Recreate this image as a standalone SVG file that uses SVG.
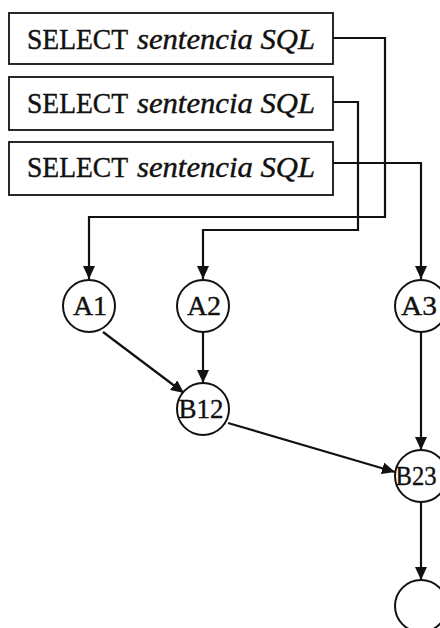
<svg xmlns="http://www.w3.org/2000/svg" width="440" height="628" viewBox="0 0 440 628">
  <style>
    .box { fill: #fff; stroke: #111; stroke-width: 1.8; }
    .node { fill: #fff; stroke: #111; stroke-width: 2; }
    .lbl { font-family: "Liberation Serif", "Times New Roman", serif; fill: #111; stroke: #111; stroke-width: 0.4; }
    .sel { font-size: 29px; }
    .it { font-style: italic; }
    .nd { font-size: 28px; text-anchor: middle; }
    .edge { fill: none; stroke: #111; stroke-width: 2.2; }
  </style>
  <defs>
    <marker id="arrow" markerUnits="userSpaceOnUse" markerWidth="14" markerHeight="12" refX="13" refY="6" orient="auto">
      <path d="M0,0 L13,6 L0,12 z" fill="#111"/>
    </marker>
  </defs>

  <!-- query boxes -->
  <g id="q1">
    <rect class="box" x="9" y="13" width="324" height="51"/>
    <text class="lbl sel" y="49"><tspan x="27" textLength="101" lengthAdjust="spacingAndGlyphs">SELECT</tspan><tspan class="it" x="137" textLength="178" lengthAdjust="spacingAndGlyphs">sentencia SQL</tspan></text>
  </g>
  <g id="q2">
    <rect class="box" x="9" y="77" width="324" height="53"/>
    <text class="lbl sel" y="113"><tspan x="27" textLength="101" lengthAdjust="spacingAndGlyphs">SELECT</tspan><tspan class="it" x="137" textLength="178" lengthAdjust="spacingAndGlyphs">sentencia SQL</tspan></text>
  </g>
  <g id="q3">
    <rect class="box" x="9" y="142" width="324" height="53"/>
    <text class="lbl sel" y="177"><tspan x="27" textLength="101" lengthAdjust="spacingAndGlyphs">SELECT</tspan><tspan class="it" x="137" textLength="178" lengthAdjust="spacingAndGlyphs">sentencia SQL</tspan></text>
  </g>

  <!-- connectors -->
  <g id="edges">
    <polyline class="edge" points="333,38 385,38 385,217 89,217 89,279" marker-end="url(#arrow)"/>
    <polyline class="edge" points="333,102 358,102 358,230 203,230 203,279" marker-end="url(#arrow)"/>
    <polyline class="edge" points="333,163 421,163 421,279" marker-end="url(#arrow)"/>
    <line class="edge" x1="103" y1="332" x2="184" y2="393" marker-end="url(#arrow)"/>
    <line class="edge" x1="203" y1="332" x2="203" y2="383" marker-end="url(#arrow)"/>
    <line class="edge" x1="421" y1="332" x2="421" y2="450" marker-end="url(#arrow)"/>
    <line class="edge" x1="228" y1="423" x2="395" y2="472" marker-end="url(#arrow)"/>
    <line class="edge" x1="421" y1="502" x2="421" y2="580" marker-end="url(#arrow)"/>
  </g>

  <!-- operation nodes -->
  <g id="A1">
    <circle class="node" cx="89" cy="306" r="26"/>
    <text class="lbl nd" x="90" y="315">A1</text>
  </g>
  <g id="A2">
    <circle class="node" cx="203" cy="306" r="26"/>
    <text class="lbl nd" x="204" y="315">A2</text>
  </g>
  <g id="A3">
    <circle class="node" cx="421" cy="306" r="26"/>
    <text class="lbl nd" x="419" y="315" textLength="36" lengthAdjust="spacingAndGlyphs">A3</text>
  </g>
  <g id="B12">
    <circle class="node" cx="203" cy="409" r="26"/>
    <text class="lbl nd" x="201" y="418" textLength="45" lengthAdjust="spacingAndGlyphs">B12</text>
  </g>
  <g id="B23">
    <circle class="node" cx="421" cy="476" r="26"/>
    <text class="lbl nd" x="416" y="485" textLength="41" lengthAdjust="spacingAndGlyphs">B23</text>
  </g>
  <g id="result">
    <circle class="node" cx="421" cy="606" r="26"/>
  </g>
</svg>
